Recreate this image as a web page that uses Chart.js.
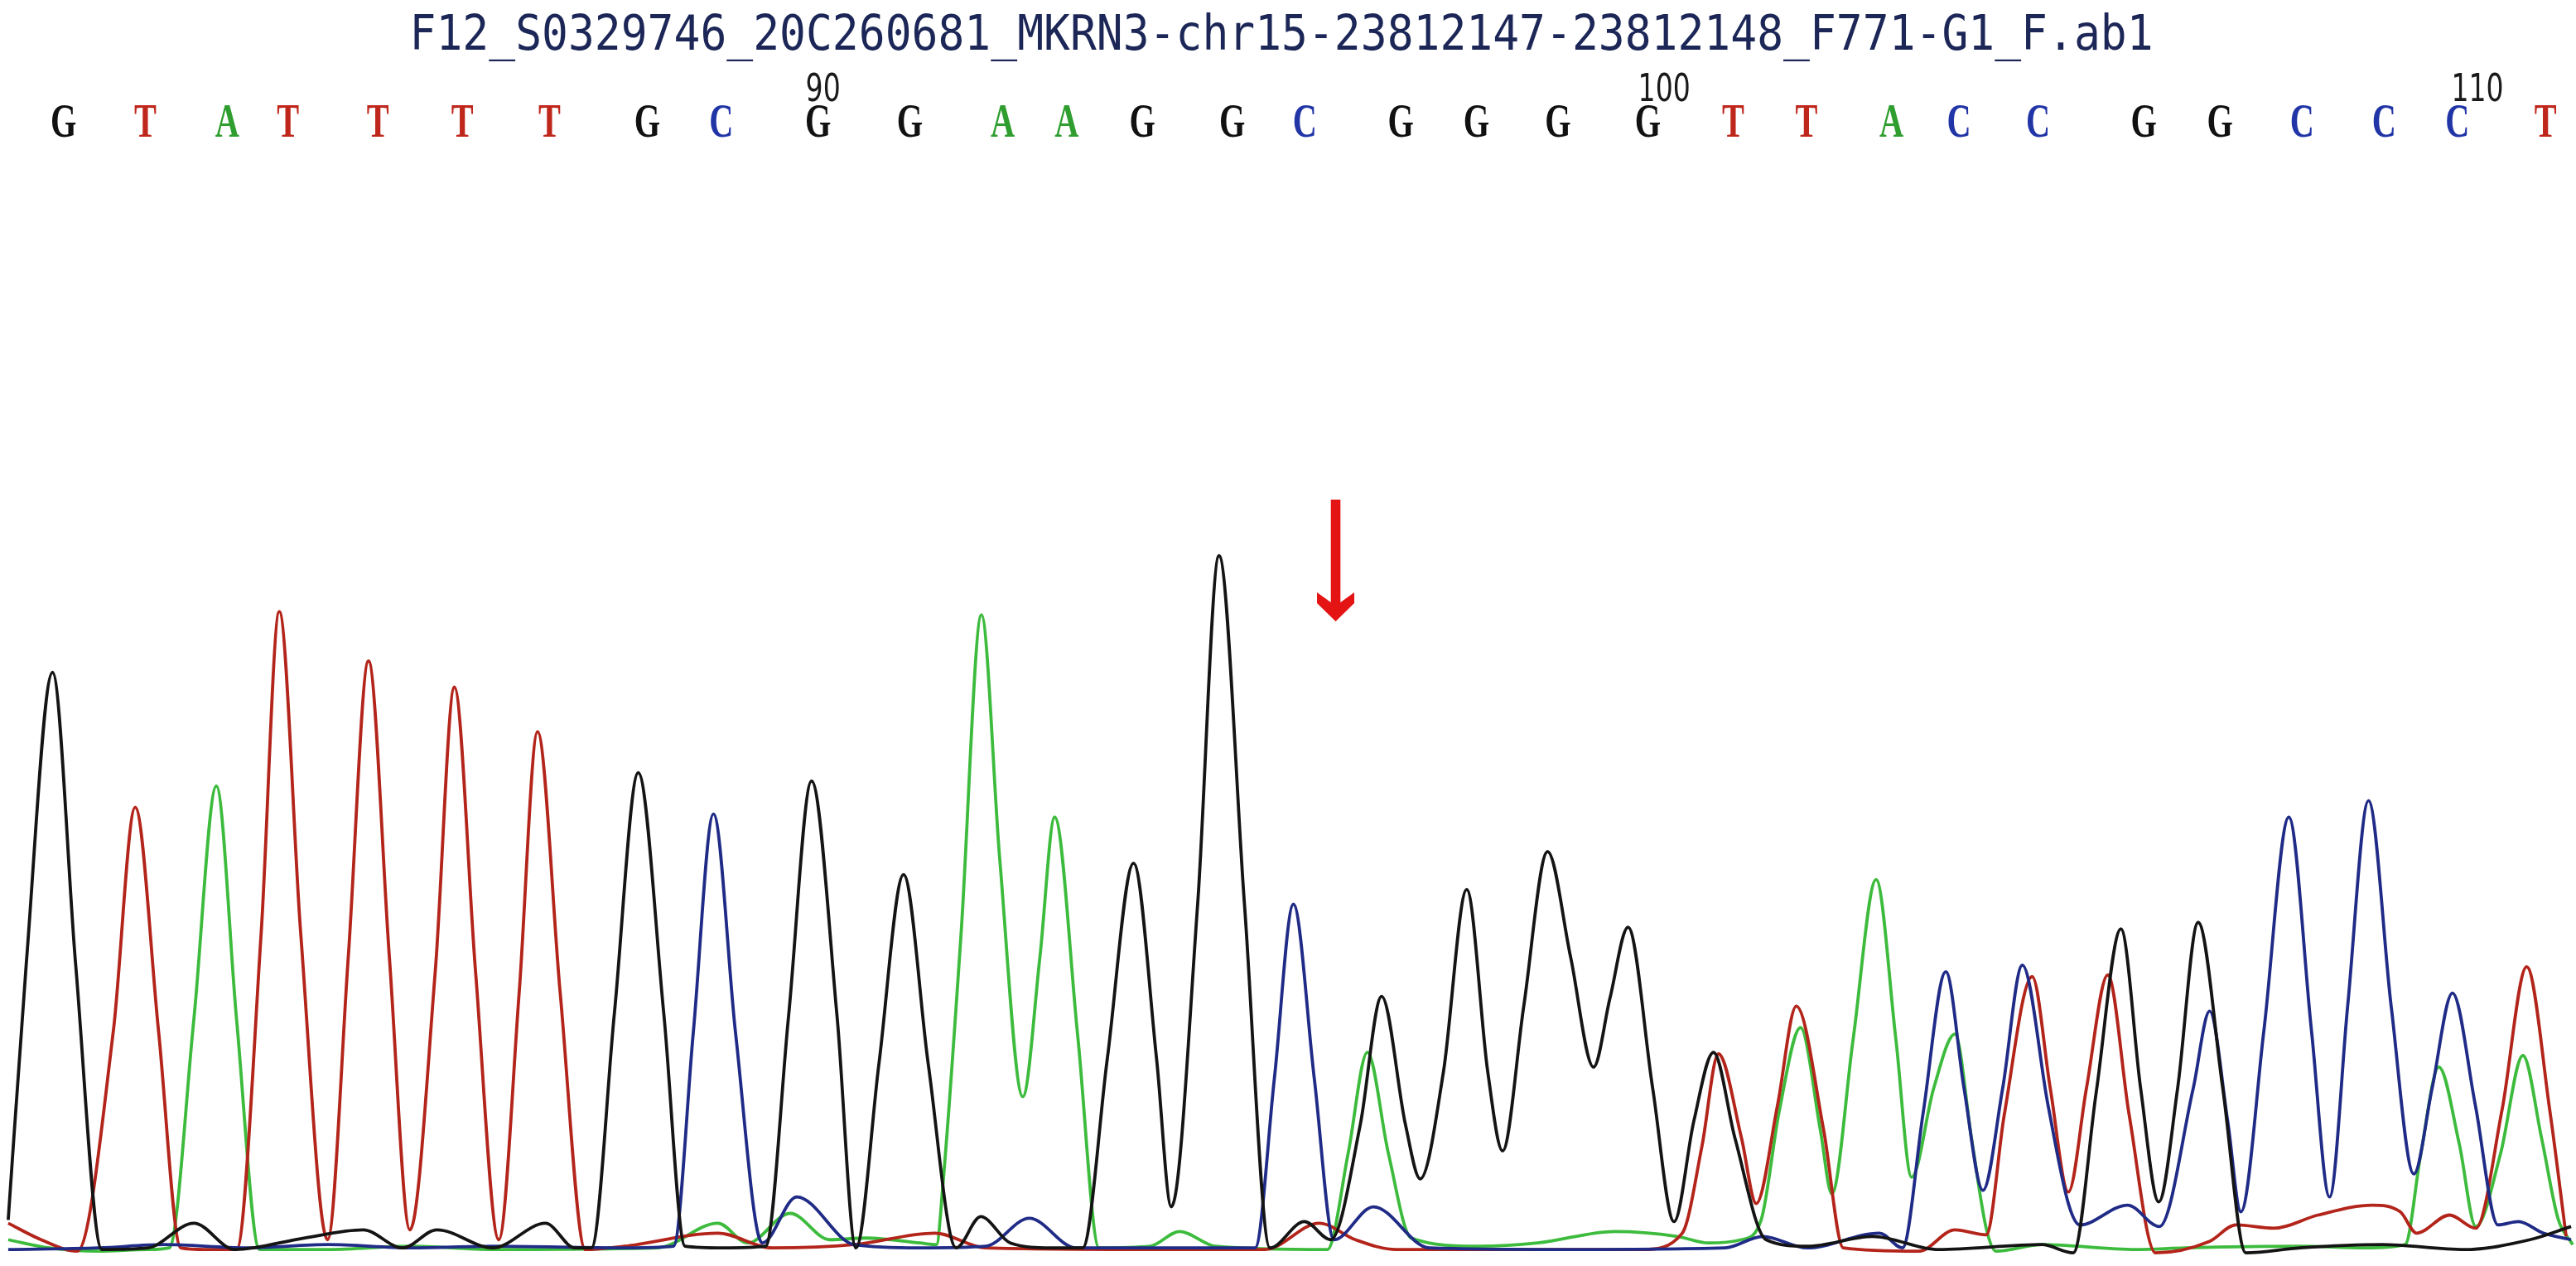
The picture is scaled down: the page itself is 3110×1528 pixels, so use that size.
<!DOCTYPE html>
<html>
<head>
<meta charset="utf-8">
<script src="https://cdn.jsdelivr.net/npm/chart.js@4.4.1/dist/chart.umd.min.js"></script>
<style>
  html, body { margin: 0; padding: 0; background: #fff; }
  #wrap { width: 3110px; height: 1528px; }
</style>
</head>
<body>
<div id="wrap"><canvas id="trace"></canvas></div>
<script>
const titleText = 'F12_S0329746_20C260681_MKRN3-chr15-23812147-23812148_F771-G1_F.ab1';

// base calls and their positions along the trace
const baseCalls = ['G','T','A','T','T','T','T','G','C','G','G','A','A','G','G','C','G','G','G','G','T','T','A','C','C','G','G','C','C','C','T'];
const basePositions = [38.6, 88.4, 138.3, 175.3, 230, 281.4, 334.5, 394, 439, 498, 553.8, 610.4, 649.3, 695.3, 750.1, 794.3, 852.7, 898.7, 948.3, 1003, 1055, 1099.6, 1151.3, 1192.4, 1240.6, 1304.9, 1351.3, 1401.3, 1451.2, 1495.8, 1549.4];

const tickLabels = ['90', '100', '110'];
const tickPositions = [501, 1013, 1508];

const arrowAt = 813;

// traces: [scan, signal]
const traceG = [[5,20],[16,176],[32,353],[46,176],[62,2],[90,3],[118,18],[143,2],[185,9],[221,14],[245,3],[266,14],[300,3],[332,18],[350,3],[360,3],[374,146],[388.5,292],[404,146],[417,4],[440,3],[466,4],[480,144],[494,287],[509.5,144],[521,3],[535,115],[550,230],[565,115],[582,3],[597,22],[615,6],[640,3],[659,3],[674,118],[690,237],[704,118],[713,28],[729,212],[742,424],[757.5,212],[773,3],[794,19],[810,8],[828,78],[841,156],[855.5,78],[864.5,45],[878.6,110],[892.8,221],[905.6,110],[914.6,62],[927.5,150],[942,244],[956,180],[970,113],[980,155],[991,198],[1006,100],[1019,19],[1031,80],[1043,122],[1056,70],[1075,8],[1100,4],[1140,10],[1180,2],[1243,5],[1262,0],[1276,98],[1291,197],[1303,100],[1314,31],[1325.5,100],[1338,201],[1353,100],[1367,0],[1400,3],[1450,5],[1500,2],[1540,8],[1565,16]];

const traceT = [[5,18],[25,8],[47,1],[69,135],[82.3,271],[96.5,135],[110,3],[125,2],[144,2],[159,195],[170,390],[183,195],[199.4,8],[212,180],[224.3,360],[237,180],[249.5,14],[265,172],[276.6,344],[289.4,172],[303.6,8],[316,158],[327.2,317],[341,158],[356.3,2],[380,4],[437,12],[470,3],[520,5],[569,12],[600,3],[700,2],[770,2],[803,18],[825,8],[850,2],[1000,2],[1024,12],[1036,65],[1046,121],[1060,70],[1069,30],[1082,90],[1093.4,150],[1110,75],[1122,3],[1168,1],[1190,14],[1209,11],[1220,84],[1237,168],[1248,100],[1259,37],[1270,100],[1283,169],[1296,84],[1312,0],[1345,7],[1361,17],[1384,15],[1411,23],[1444,29],[1461,25],[1471,12],[1491,23],[1507,15],[1523,87],[1538,174],[1552,87],[1562,10]];

const traceA = [[5,8],[30,3],[60,1],[90,2],[103,3],[118,142],[131.7,284],[144,142],[158,2],[200,2],[250,4],[300,2],[400,3],[437,18],[455,6],[481,24],[505,8],[527,9],[560,6],[570,5],[574,42],[585,194],[597.4,388],[608.5,240],[622.6,95],[633,180],[642,265],[656,132],[669,3],[700,4],[718,13],[740,4],[808,2],[820.7,61],[832.3,122],[845,61],[859,9],[900,4],[936,6],[983,13],[1021,10],[1040,6],[1060,8],[1072,20],[1083,86],[1096,137],[1108,75],[1115,36],[1128,130],[1142,227],[1154,130],[1163.6,46],[1177,100],[1190,133],[1200,70],[1209,15],[1215,1],[1243,5],[1300,2],[1330,3],[1400,4],[1440,3],[1464,5],[1473.5,60],[1484.5,113],[1497,66],[1507,16],[1522,60],[1535.7,120],[1547,70],[1557,21],[1566,5]];

const traceC = [[5,2],[60,3],[100,5],[150,3],[200,5],[250,3],[300,4],[380,3],[410,4],[422,134],[434.3,267],[447.7,134],[464,6],[485,34],[520,5],[560,3],[600,4],[626.5,21],[655,3],[700,3],[764,3],[775.7,106],[787.3,212],[800,106],[812,8],[836,28],[870,3],[950,2],[1050,3],[1073,10],[1100,3],[1144,12],[1158,3],[1170.6,85],[1184.4,171],[1195.5,100],[1207,38],[1219,100],[1231,175],[1246.6,90],[1259,30],[1266,17],[1295,29],[1314.4,16],[1335,100],[1345,147],[1356,80],[1364,25],[1378,135],[1393.2,265],[1407,135],[1418,34],[1429,150],[1441.7,275],[1455.5,150],[1469.3,48],[1480.4,100],[1492.8,158],[1506.7,90],[1520.5,17],[1533,19],[1548,12],[1565,8]];

const traceColors = { G: '#141414', T: '#b3241a', A: '#3dbb3d', C: '#1f2b86' };
const letterColors = { G: '#111111', T: '#bf261c', A: '#2f9e2f', C: '#2235a6' };

function toPoints(arr) {
  return arr.map(p => ({ x: p[0], y: p[1] }));
}

function traceSet(label, arr) {
  return {
    label: label,
    data: toPoints(arr),
    borderColor: traceColors[label],
    borderWidth: 3.8,
    pointRadius: 0,
    fill: false,
    cubicInterpolationMode: 'monotone'
  };
}

const labelsPlugin = {
  id: 'labels',
  afterDraw(chart) {
    const ctx = chart.ctx;
    const xs = chart.scales.x;

    // file name
    ctx.save();
    ctx.fillStyle = '#1c2757';
    ctx.font = '59px "DejaVu Sans Mono"';
    ctx.textAlign = 'center';
    ctx.textBaseline = 'alphabetic';
    let w = ctx.measureText(titleText).width;
    ctx.translate(xs.getPixelForValue(780), 60);
    ctx.scale(2105 / w, 1);
    ctx.fillText(titleText, 0, 0);
    ctx.restore();

    // base letters
    ctx.save();
    ctx.font = 'bold 56px "Liberation Serif"';
    ctx.textAlign = 'center';
    ctx.textBaseline = 'alphabetic';
    baseCalls.forEach((b, i) => {
      ctx.save();
      ctx.fillStyle = letterColors[b];
      ctx.translate(xs.getPixelForValue(basePositions[i]), 165);
      ctx.scale(0.72, 1);
      ctx.fillText(b, 0, 0);
      ctx.restore();
    });
    ctx.restore();

    // position numbers
    ctx.save();
    ctx.font = '46px "DejaVu Sans"';
    ctx.fillStyle = '#1a1a1a';
    ctx.textAlign = 'center';
    tickLabels.forEach((t, i) => {
      ctx.save();
      ctx.translate(xs.getPixelForValue(tickPositions[i]), 122);
      ctx.scale(0.72, 1);
      ctx.fillText(t, 0, 0);
      ctx.restore();
    });
    ctx.restore();

    // red arrow
    const ax = xs.getPixelForValue(arrowAt);
    ctx.save();
    ctx.fillStyle = '#e41414';
    ctx.beginPath();
    ctx.moveTo(ax - 5.8, 603);
    ctx.lineTo(ax + 5.8, 603);
    ctx.lineTo(ax + 5.8, 727);
    ctx.lineTo(ax + 22.5, 715);
    ctx.lineTo(ax + 22.5, 728);
    ctx.lineTo(ax, 750);
    ctx.lineTo(ax - 22.5, 728);
    ctx.lineTo(ax - 22.5, 715);
    ctx.lineTo(ax - 5.8, 727);
    ctx.closePath();
    ctx.fill();
    ctx.restore();
  }
};

new Chart(document.getElementById('trace').getContext('2d'), {
  type: 'line',
  data: {
    datasets: [
      traceSet('G', traceG),
      traceSet('C', traceC),
      traceSet('T', traceT),
      traceSet('A', traceA)
    ]
  },
  options: {
    responsive: true,
    maintainAspectRatio: false,
    animation: false,
    layout: { padding: 0 },
    scales: {
      x: { type: 'linear', min: 0, max: 1568, display: false },
      y: { min: -8, max: 762, display: false }
    },
    plugins: {
      legend: { display: false },
      tooltip: { enabled: false }
    }
  },
  plugins: [labelsPlugin]
});
</script>
</body>
</html>
